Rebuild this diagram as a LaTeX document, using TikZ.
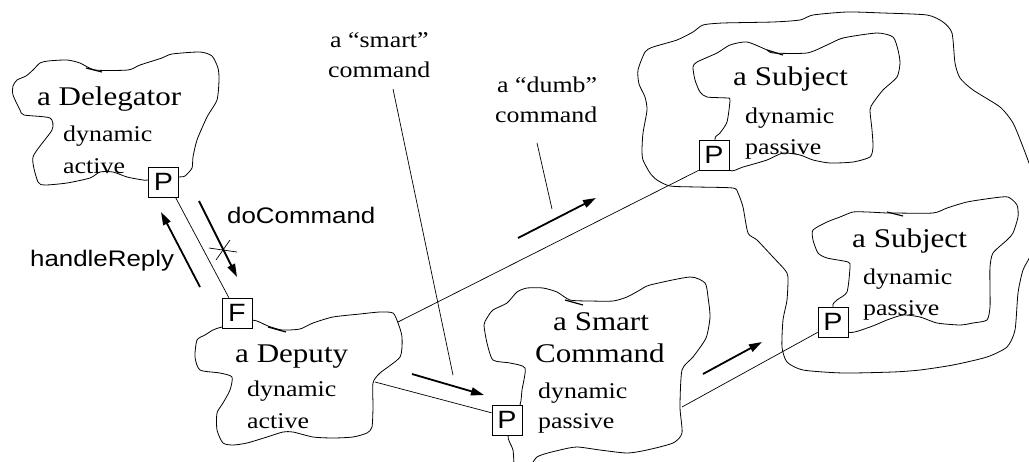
\documentclass[tikz,border=0pt]{standalone}
\usepackage{fontspec}
\usetikzlibrary{arrows.meta}
\newfontfamily\blobfont[FakeStretch=1.15]{Liberation Serif}
\newfontfamily\msgfont[FakeStretch=1.15]{Liberation Sans}

\begin{document}
\begin{tikzpicture}[x=1pt,y=-1pt,
  outline/.style={line width=0.8pt, line join=round},
  tick/.style={line width=1.2pt},
  title/.style={font=\blobfont\fontsize{27}{32}\selectfont, anchor=base west, inner sep=0pt},
  attr/.style={font=\blobfont\fontsize{22.5}{27}\selectfont, anchor=base west, inner sep=0pt},
  msg/.style={font=\msgfont\fontsize{22.5}{27}\selectfont, anchor=base west, inner sep=0pt},
  port/.style={draw, fill=white, line width=0.7pt, minimum size=30pt, inner sep=0pt,
               font=\msgfont\fontsize{25}{30}\selectfont},
  link/.style={line width=0.7pt},
  flow/.style={line width=1.8pt, -{Triangle[length=13pt,width=8pt]}},
]
\clip (0,0) rectangle (1029,461);

% ---- object outlines ----
% Delegator
\draw[outline] plot[smooth cycle, tension=0.4] coordinates {
  (179,177) (185,176) (192,168) (193,157) (197,140) (207,117) (217,100) (219,80)
  (218,68) (212,56) (200,52) (172,54) (162,58) (140,65) (128,70) (95,70) (80,63)
  (67,60) (48,61) (40,63) (33,70) (26,76) (17,80) (13,86) (13,95) (20,110) (24,115)
  (50,118) (52,130) (33,157) (38,182) (45,185) (67,183) (90,178) (100,172) (113,172)
  (127,177) (143,180) (148,180)};
\draw[tick] (86,68) -- (102,72);

% Deputy
\draw[outline] plot[smooth cycle, tension=0.4] coordinates {
  (252,320) (268,326) (282,330) (300,329) (313,323) (333,317) (360,314) (380,312)
  (393,313) (398,323) (402,337) (400,357) (380,373) (373,383) (373,407) (372,427)
  (367,433) (353,437) (333,438) (313,437) (293,432) (283,432) (267,437) (247,443)
  (233,445) (223,443) (217,430) (217,413) (223,403) (230,390) (232,377) (220,373)
  (200,370) (195,357) (197,340) (205,335) (213,330) (222,327)};
\draw[tick] (268,327) -- (286,332);

% Smart Command
\draw[outline] plot[smooth cycle, tension=0.4] coordinates {
  (520,405) (522,390) (525,368) (510,363) (493,360) (487,343) (484,325) (487,318)
  (493,310) (507,303) (517,292) (527,288) (543,288) (557,292) (570,300) (590,301)
  (613,301) (627,297) (640,290) (650,285) (690,277) (705,283) (708,297) (710,317)
  (706,338) (693,357) (682,370) (680,407) (682,433) (673,443) (647,450) (627,453)
  (600,450) (577,447) (560,450) (537,457) (525,475) (515,470) (513,450) (508,435)};
\draw[tick] (565,300) -- (583,305);

% Subject (upper)
\draw[outline] plot[smooth cycle, tension=0.4] coordinates {
  (715,140) (720,133) (727,122) (730,100) (727,98) (707,97) (700,92) (695,80)
  (693,67) (697,62) (717,53) (730,45) (747,42) (767,50) (773,53) (807,53) (827,45)
  (843,38) (877,33) (893,37) (898,50) (900,63) (897,77) (883,90) (873,103) (870,110)
  (872,130) (873,147) (870,157) (853,162) (830,163) (813,160) (800,155) (783,153)
  (767,160) (743,167) (729,170)};
\draw[tick] (767,50) -- (783,55);

% Subject (lower)
\draw[outline] plot[smooth cycle, tension=0.4] coordinates {
  (833,307) (837,300) (847,292) (850,267) (848,262) (827,258) (818,253) (813,240)
  (813,230) (827,222) (840,217) (853,212) (867,212) (887,213) (893,213) (933,213)
  (947,208) (967,202) (993,198) (1008,197) (1017,205) (1018,217) (1013,233)
  (1007,240) (993,253) (990,267) (990,290) (990,307) (987,320) (973,323) (960,325)
  (937,323) (920,317) (903,315) (887,320) (870,327) (848,332)};
\draw[tick] (887,212) -- (903,216);

% Enclosing outline around both subjects
\draw[outline] plot[smooth cycle, tension=0.4] coordinates {
  (638,70) (645,52) (653,47) (677,40) (693,32) (703,25) (723,23) (773,22) (800,20)
  (813,15) (847,12) (883,13) (927,15) (943,22) (952,33) (955,63) (960,78) (973,90)
  (1000,107) (1013,123) (1023,147) (1032,172) (1042,212) (1032,252) (1023,270)
  (1018,293) (1015,330) (1007,347) (987,357) (953,365) (920,370) (893,372) (843,373)
  (803,370) (787,362) (782,347) (783,320) (787,300) (788,277) (785,270) (773,257)
  (757,240) (748,233) (743,207) (738,193) (733,188) (697,187) (670,186) (657,180)
  (650,173) (643,160) (642,150) (643,133) (647,110) (645,97) (639,84)};

% ---- ports ----
\node[port] (dP) at (163.5,182) {P};
\node[port] (dF) at (237,313) {F};
\node[port] (scP) at (507,420) {P};
\node[port] (s1P) at (714,155) {P};
\node[port] (s2P) at (833,322) {P};

% ---- labels inside objects ----
\node[title] (delT) at (37,105) {a Delegator};
\node[attr] (delA) at (63,141) {dynamic};
\node[attr] (delB) at (63,173) {active};

\node[title] (depT) at (235,362) {a Deputy};
\node[attr] (depA) at (247,396) {dynamic};
\node[attr] (depB) at (247,428) {active};

\node[title] (scT) at (553,330) {a Smart};
\node[title] (scT2) at (535,362) {Command};
\node[attr] (scA) at (538,398) {dynamic};
\node[attr] (scB) at (538,428) {passive};

\node[title] (s1T) at (733,85) {a Subject};
\node[attr] (s1A) at (745,123) {dynamic};
\node[attr] (s1B) at (745,154) {passive};

\node[title] (s2T) at (852,247) {a Subject};
\node[attr] (s2A) at (863,284) {dynamic};
\node[attr] (s2B) at (863,315) {passive};

% ---- annotations ----
\node[attr] (smartA) at (330,47) {a “smart”};
\node[attr] (smartB) at (328,77) {command};
\node[attr] (dumbA) at (497,92) {a “dumb”};
\node[attr] (dumbB) at (495,122) {command};
\node[msg] (doCmd) at (227,223) {doCommand};
\node[msg] (hReply) at (30,266) {handleReply};

% ---- links ----
\coordinate (depR1) at (398,322);
\coordinate (depR2) at (375,382);
\coordinate (scR) at (682,407);
\draw[link] (dP.-52) -- (dF.118);
\draw[link] (depR1) -- (s1P.south west);
\draw[link] (depR2) -- (scP.155);
\draw[link] (scR) -- (s2P.214);

% cut mark on the delegation link
\coordinate (x1a) at (209,248); \coordinate (x1b) at (237,252);
\coordinate (x2a) at (216,260); \coordinate (x2b) at (230,240);
\draw[link] (x1a) -- (x1b);
\draw[link] (x2a) -- (x2b);

% pointer lines from the annotations
\coordinate (smartTip) at (453,375);
\coordinate (dumbTip) at (552,209);
\draw[link] (393,89) coordinate (smartFoot) -- (smartTip);
\draw[link] (537,143) coordinate (dumbFoot) -- (dumbTip);

% ---- message flow arrows ----
\coordinate (f1a) at (199,201); \coordinate (f1b) at (237,277);
\coordinate (f2a) at (200,287); \coordinate (f2b) at (161,212);
\coordinate (f3a) at (518,238); \coordinate (f3b) at (596,198);
\coordinate (f4a) at (412,374); \coordinate (f4b) at (484,395);
\coordinate (f5a) at (703,374); \coordinate (f5b) at (762,342);
\draw[flow] (f1a) -- (f1b);
\draw[flow] (f2a) -- (f2b);
\draw[flow] (f3a) -- (f3b);
\draw[flow] (f4a) -- (f4b);
\draw[flow] (f5a) -- (f5b);
\end{tikzpicture}
\end{document}
